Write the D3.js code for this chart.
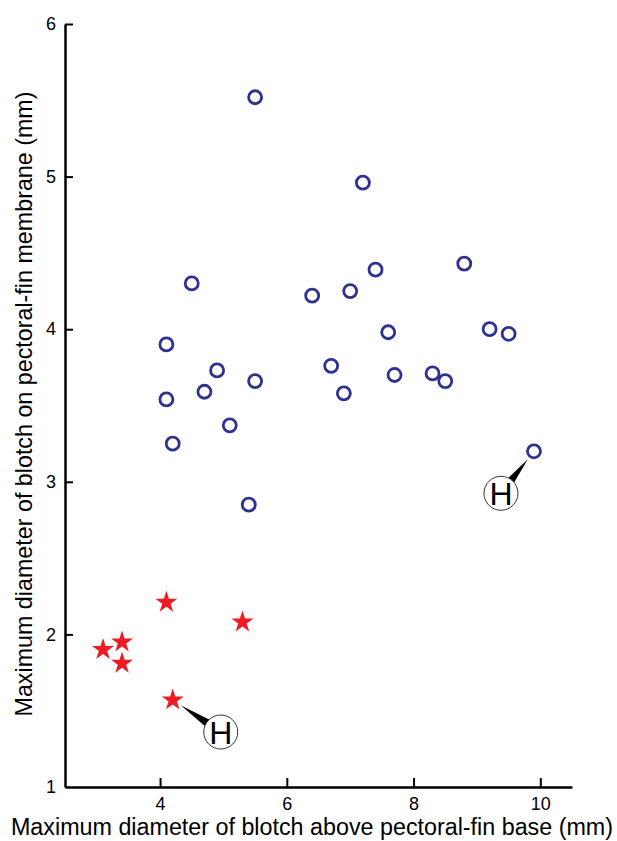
<!DOCTYPE html>
<html>
<head>
<meta charset="utf-8">
<script src="https://cdn.jsdelivr.net/npm/d3@7"></script>
<style>
  body { margin: 0; background: #fff; }
  svg { display: block; font-family: "Liberation Sans", Arial, sans-serif; }
</style>
</head>
<body>
<div id="chart"></div>
<script>
// open circles (blue group)
const circleX = [5.5, 7.2, 4.5, 6.4, 7.0, 7.4, 8.8, 4.1, 7.6, 9.2, 9.5, 6.7, 4.9, 5.5, 4.7, 4.1, 6.9, 7.7, 8.3, 8.5, 5.1, 4.2, 5.4, 9.9];
const circleY = [5.52, 4.96, 4.30, 4.22, 4.25, 4.39, 4.43, 3.90, 3.98, 4.00, 3.97, 3.76, 3.73, 3.66, 3.59, 3.54, 3.58, 3.70, 3.71, 3.66, 3.37, 3.25, 2.85, 3.20];
// stars (red group)
const starX = [4.1, 5.3, 3.4, 3.1, 3.4, 4.2];
const starY = [2.21, 2.08, 1.95, 1.90, 1.81, 1.57];
// which point of each group carries the "H" label
const holoCircle = 23;
const holoStar = 5;

const xTicks = [4, 6, 8, 10];
const yTicks = [1, 2, 3, 4, 5, 6];
const xTitle = "Maximum diameter of blotch above pectoral-fin base (mm)";
const yTitle = "Maximum diameter of blotch on pectoral-fin membrane (mm)";

const W = 617, H = 841;
const svg = d3.select("#chart").append("svg")
  .attr("width", W).attr("height", H);

const x = d3.scaleLinear().domain([2.5, 10.5]).range([65, 572]);
const y = d3.scaleLinear().domain([1, 6]).range([787, 24]);

// axes
const xAxis = svg.append("g")
  .attr("transform", "translate(0," + y(1) + ")")
  .call(d3.axisBottom(x).tickValues(xTicks).tickFormat(d3.format("d"))
    .tickSize(-9).tickSizeOuter(0).tickPadding(10));
const yAxis = svg.append("g")
  .attr("transform", "translate(" + x(2.5) + ",0)")
  .call(d3.axisLeft(y).tickValues(yTicks).tickFormat(d3.format("d"))
    .tickSize(-8).tickSizeOuter(0).tickPadding(9));

[xAxis, yAxis].forEach(function(g) {
  g.attr("font-size", 18).attr("font-family", "Liberation Sans, Arial, sans-serif");
  g.select(".domain").attr("stroke", "#000").attr("stroke-width", 2.5);
  g.selectAll(".tick line").attr("stroke", "#000").attr("stroke-width", 2);
  g.selectAll(".tick text").attr("fill", "#000");
});
// the "1" tick sits on the corner, no tick mark there
yAxis.selectAll(".tick").filter(function(d) { return d === 1; }).select("line").remove();

svg.append("text")
  .attr("x", 312).attr("y", 835)
  .attr("text-anchor", "middle")
  .style("font-size", "23.3px")
  .text(xTitle);

// y title is set slightly condensed in the original
svg.append("text")
  .attr("transform", "translate(32,404) rotate(-90)")
  .attr("text-anchor", "middle")
  .attr("textLength", 625)
  .attr("lengthAdjust", "spacingAndGlyphs")
  .style("font-size", "24px")
  .text(yTitle);

// H callouts: wedge pointer + circle with letter
function callout(px, py, dx, dy) {
  var cx = px + dx, cy = py + dy;
  var len = Math.sqrt(dx * dx + dy * dy);
  var ux = dx / len, uy = dy / len;
  var sx = px + ux * 10, sy = py + uy * 10;
  var nx = -uy, ny = ux;
  var hw = 6;
  var pts = [[sx, sy], [cx + nx * hw, cy + ny * hw], [cx - nx * hw, cy - ny * hw]];
  var g = svg.append("g");
  g.append("path")
    .attr("d", "M" + pts.map(function(p) { return p.join(","); }).join("L") + "Z")
    .attr("fill", "#000");
  g.append("circle")
    .attr("cx", cx).attr("cy", cy).attr("r", 17)
    .attr("fill", "#fff").attr("stroke", "#333").attr("stroke-width", 1);
  g.append("text")
    .attr("x", cx).attr("y", cy + 11.5)
    .attr("text-anchor", "middle")
    .style("font-size", "32px")
    .text("H");
}

callout(x(starX[holoStar]), y(starY[holoStar]), 48, 32);
callout(x(circleX[holoCircle]), y(circleY[holoCircle]), -33, 42);

// points
svg.append("g").selectAll("circle")
  .data(circleX.map(function(v, i) { return [v, circleY[i]]; }))
  .enter().append("circle")
  .attr("cx", function(d) { return x(d[0]); })
  .attr("cy", function(d) { return y(d[1]); })
  .attr("r", 6.5)
  .attr("fill", "none")
  .attr("stroke", "#2e3192")
  .attr("stroke-width", 2.8);

const star = d3.symbol().type(d3.symbolStar).size(150);
svg.append("g").selectAll("path")
  .data(starX.map(function(v, i) { return [v, starY[i]]; }))
  .enter().append("path")
  .attr("d", star)
  .attr("transform", function(d) { return "translate(" + x(d[0]) + "," + y(d[1]) + ")"; })
  .attr("fill", "#ed1c24");
</script>
</body>
</html>
